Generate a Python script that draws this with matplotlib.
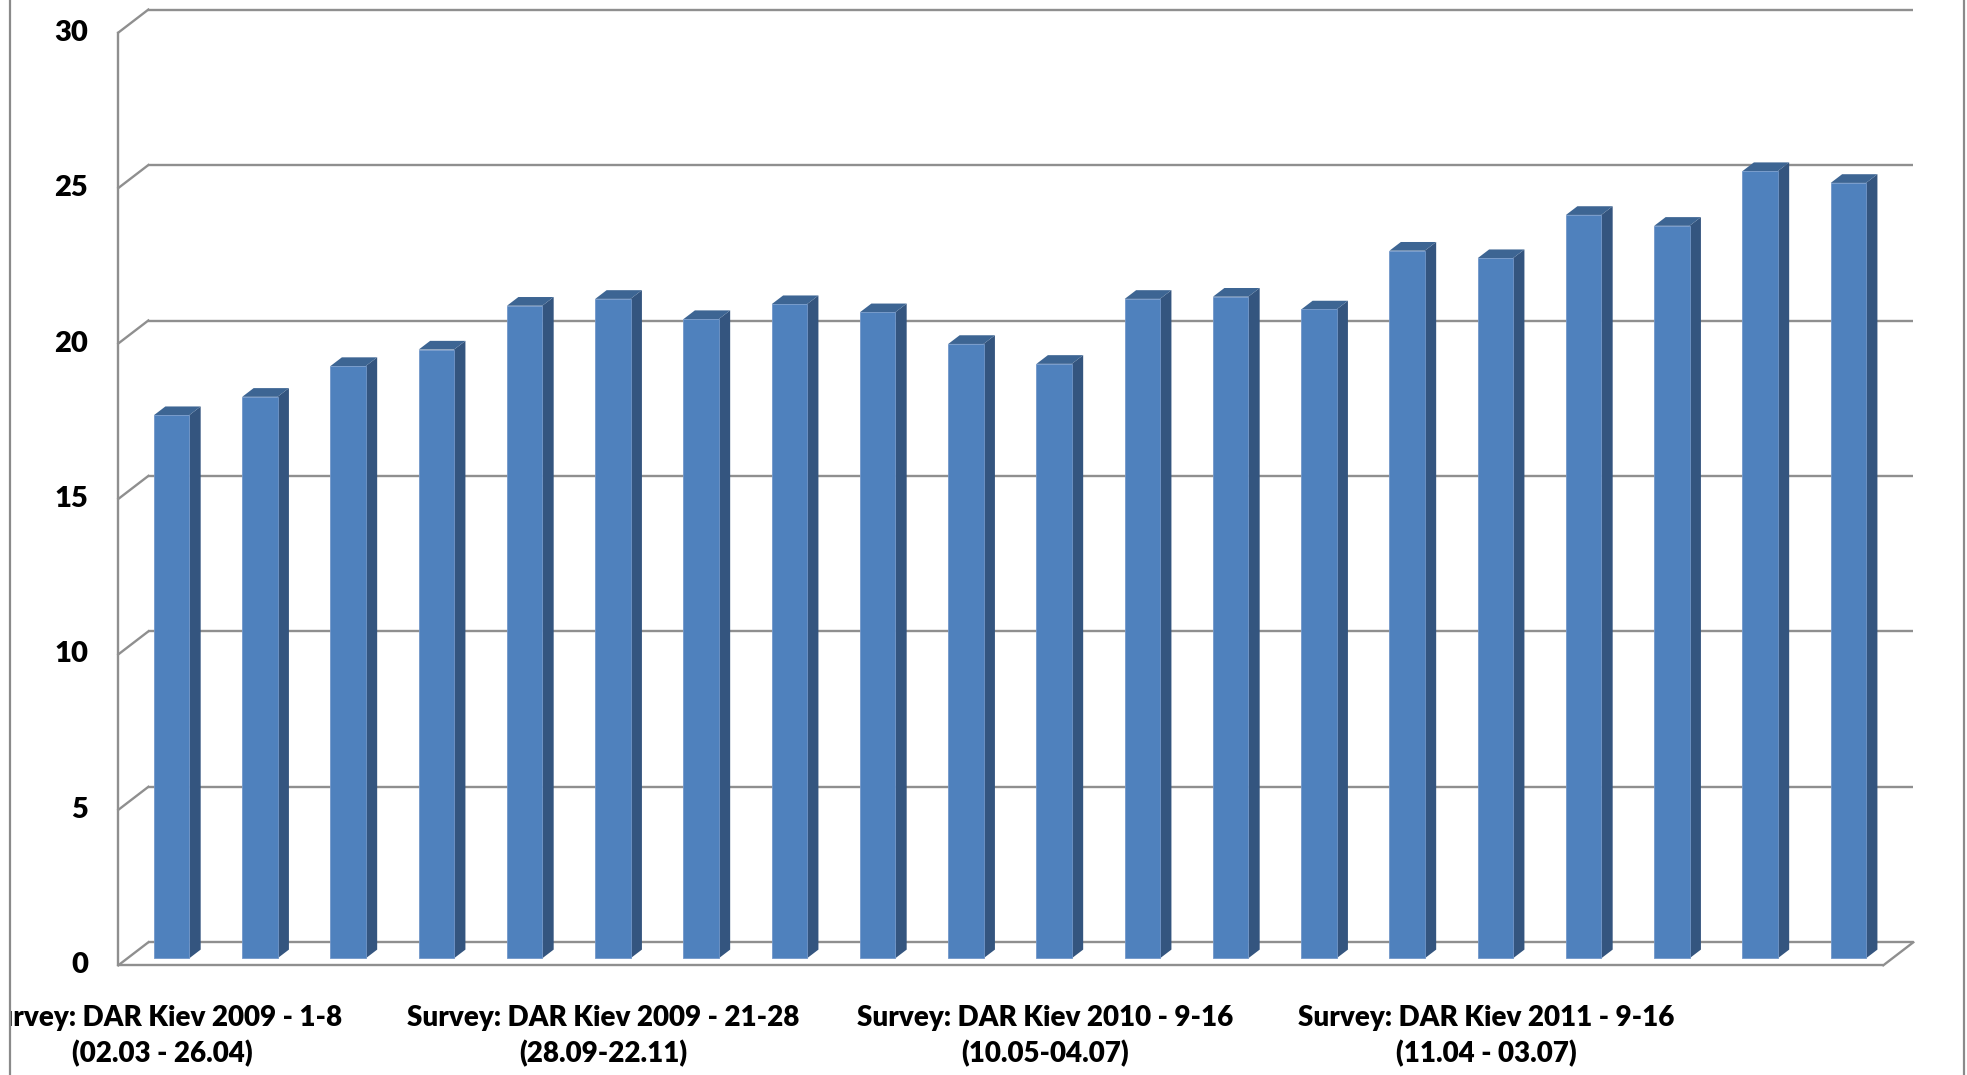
import matplotlib
matplotlib.use("Agg")
import matplotlib.pyplot as plt
from matplotlib.patches import Polygon, Rectangle
from matplotlib.lines import Line2D

# ---- data ----
values = [17.47, 18.06, 19.05, 19.58, 20.99, 21.21, 20.56, 21.04, 20.78, 19.76,
          19.12, 21.21, 21.28, 20.87, 22.76, 22.52, 23.91, 23.56, 25.32, 24.94]
y_ticks = [0, 5, 10, 15, 20, 25, 30]
group_titles = ["Survey: DAR Kiev 2009 - 1-8", "Survey: DAR Kiev 2009 - 21-28",
                "Survey: DAR Kiev 2010 - 9-16", "Survey: DAR Kiev 2011 - 9-16"]
group_dates = ["(02.03 - 26.04)", "(28.09-22.11)", "(10.05-04.07)", "(11.04 - 03.07)"]
group_index = [0, 5, 10, 15]

# ---- figure / pixel geometry ----
W, H = 1967, 1075
fig = plt.figure(figsize=(W / 100, H / 100), dpi=100)
fig.patch.set_facecolor("white")
ax = fig.add_axes([0, 0, 1, 1])
ax.axis("off")

x0_px, slot_px = 118.3, 88.25      # front floor left edge, px per category
y0_px, unit_px = 965.3, 31.09      # front zero (from top), px per value unit
n = len(values)
ax.set_xlim(-x0_px / slot_px, (W - x0_px) / slot_px)
ax.set_ylim((y0_px - H) / unit_px, y0_px / unit_px)

# wall depth offsets (data units)
dxw, dyw = 30 / slot_px, 23 / unit_px
grid_c = "#8f8f8f"
lw = 1.7
ymax = max(y_ticks)

# back wall gridlines + left wall diagonals
for v in y_ticks:
    ax.add_line(Line2D([dxw, n + dxw], [v + dyw, v + dyw], color=grid_c, lw=lw, zorder=1,
                       solid_capstyle="butt"))
    ax.add_line(Line2D([0, dxw], [v, v + dyw], color=grid_c, lw=lw, zorder=1))
# left wall front edge
ax.add_line(Line2D([0, 0], [0, ymax], color=grid_c, lw=lw, zorder=1))
# floor front edge and right edge
ax.add_line(Line2D([0, n], [0, 0], color=grid_c, lw=lw, zorder=1, solid_capstyle="butt"))
ax.add_line(Line2D([n, n + dxw], [0, dyw], color=grid_c, lw=lw, zorder=1))

# bars
bw = 35.3 / slot_px
bdx, bdy = 9.2 / slot_px, 7.0 / unit_px      # bar front plane offset
sdx, sdy = 11.4 / slot_px, 8.7 / unit_px     # bar depth
front_c, side_c, top_c = "#4f81bd", "#34557f", "#3d6593"
lefts = [i + 0.5 - bw / 2 + bdx for i in range(n)]
ax.bar(lefts, values, width=bw, bottom=bdy, align="edge", color=front_c,
       edgecolor="#7297c9", linewidth=0.6, zorder=3)
for xl, v in zip(lefts, values):
    xr = xl + bw
    top = bdy + v
    ax.add_patch(Polygon([(xr, bdy), (xr + sdx, bdy + sdy), (xr + sdx, top + sdy), (xr, top)],
                         closed=True, facecolor=side_c, edgecolor="none", zorder=2))
    ax.add_patch(Polygon([(xl, top), (xr, top), (xr + sdx, top + sdy), (xl + sdx, top + sdy)],
                         closed=True, facecolor=top_c, edgecolor="none", zorder=2))

# y tick labels
font = ["Lato", "DejaVu Sans"]
for v in y_ticks:
    ax.text((88 - x0_px) / slot_px, v, str(v), ha="right", va="center",
            fontsize=21, fontweight="heavy", family=font, color="black", clip_on=False)

# chart area clip (the chart border sits at x = 9.5 px)
left_b, right_b = 9.5, 1964
clip_rect = Rectangle((left_b / W, 0), (right_b - left_b) / W, 1,
                      transform=fig.transFigure, facecolor="none", edgecolor="none")
fig.add_artist(clip_rect)

# category labels
for idx, t1, t2 in zip(group_index, group_titles, group_dates):
    xc = idx + 0.5
    for txt, ypx in ((t1, 1018), (t2, 1054)):
        t = ax.text(xc, (y0_px - ypx) / unit_px, txt, ha="center", va="center", fontsize=20,
                    fontweight="heavy", family=font, color="black")
        t.set_clip_on(True)
        t.set_clip_path(clip_rect)

# outer chart border lines
for xp in (left_b, right_b):
    fig.add_artist(Line2D([xp / W, xp / W], [0, 1], transform=fig.transFigure,
                          color="#8a8a8a", lw=1.6))

fig.savefig("out.png", dpi=100)
